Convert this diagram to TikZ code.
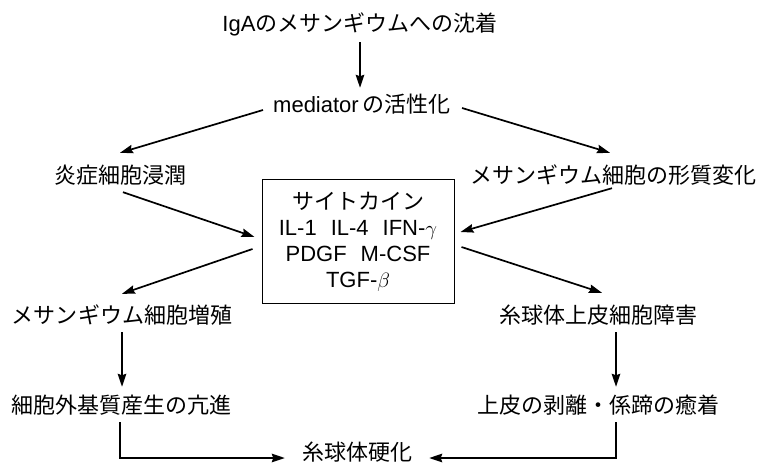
\documentclass[tikz,border=0pt]{standalone}
\usepackage{fontspec}
\setmainfont{Liberation Sans}
\newfontfamily\cjk{Noto Sans CJK JP}
\usetikzlibrary{arrows.meta}
\begin{document}
\begin{tikzpicture}[x=1pt,y=-1pt,
  lbl/.style={inner sep=0pt, text height=19pt, text depth=3pt, font=\fontsize{22}{26}\selectfont},
  cytbox/.style={draw, line width=1pt, inner sep=0pt, minimum width=192pt, minimum height=123pt, align=center, font=\fontsize{22}{26}\selectfont},
  arr/.style={line width=1.7pt, -{Stealth[length=13pt,width=8.5pt,inset=1.5pt]}},
  ln/.style={line width=1.7pt}]
\path[use as bounding box] (0,0) rectangle (765,465);

\node[lbl] (title) at (360,24) {IgA{\cjk のメサンギウムへの沈着}};
\node[lbl] (med) at (362,105) {mediator\hspace{4pt}{\cjk の活性化}};
\node[lbl] (en) at (120,175) {\cjk 炎症細胞浸潤};
\node[lbl] (kei) at (613,175) {\cjk メサンギウム細胞の形質変化};
\node[cytbox] (cyt) at (358,241.5) {{\cjk サイトカイン}\\IL-1\hspace{14pt}IL-4\hspace{14pt}IFN-$\gamma$\\PDGF\hspace{14pt}M-CSF\\TGF-$\beta$};
\node[lbl] (zou) at (122,315) {\cjk メサンギウム細胞増殖};
\node[lbl] (sho) at (598,315) {\cjk 糸球体上皮細胞障害};
\node[lbl] (gai) at (121,405) {\cjk 細胞外基質産生の亢進};
\node[lbl] (yu) at (598,405) {\cjk 上皮の剥離・係蹄の癒着};
\node[lbl] (ko) at (357,452) {\cjk 糸球体硬化};

\draw[arr, shorten <=7pt, shorten >=6pt] (title.south) -- (title.south |- med.north);
\draw[arr] ([xshift=-10pt,yshift=-5pt]med.west) -- ([yshift=11pt]en.north);
\draw[arr] ([xshift=11pt,yshift=-3pt]med.east) -- ([xshift=-3pt,yshift=11pt]kei.north);
\draw[arr] ([xshift=3pt,yshift=-6pt]en.south) -- ([xshift=-7pt,yshift=4.5pt]cyt.west);
\draw[arr] ([xshift=-1pt,yshift=-2pt]kei.south) -- ([xshift=6pt,yshift=9.5pt]cyt.east);
\draw[arr] ([xshift=-9pt,yshift=-7.5pt]cyt.west) -- ([yshift=10pt]zou.north);
\draw[arr] ([xshift=7pt,yshift=-5.5pt]cyt.east) -- ([xshift=4pt,yshift=11pt]sho.north);
\draw[arr, shorten <=6pt, shorten >=7pt] (zou.south) -- (zou.south |- gai.north);
\draw[arr, shorten <=6pt, shorten >=7pt] ([xshift=18pt]sho.south) -- ([xshift=18pt]sho.south |- yu.north);
\draw[arr, shorten <=6pt, shorten >=17pt] ([xshift=-1pt]gai.south) |- ([yshift=-6pt]ko.west);
\draw[arr, shorten <=6pt, shorten >=17pt] ([xshift=18pt]yu.south) |- ([yshift=-6pt]ko.east);
\end{tikzpicture}
\end{document}
